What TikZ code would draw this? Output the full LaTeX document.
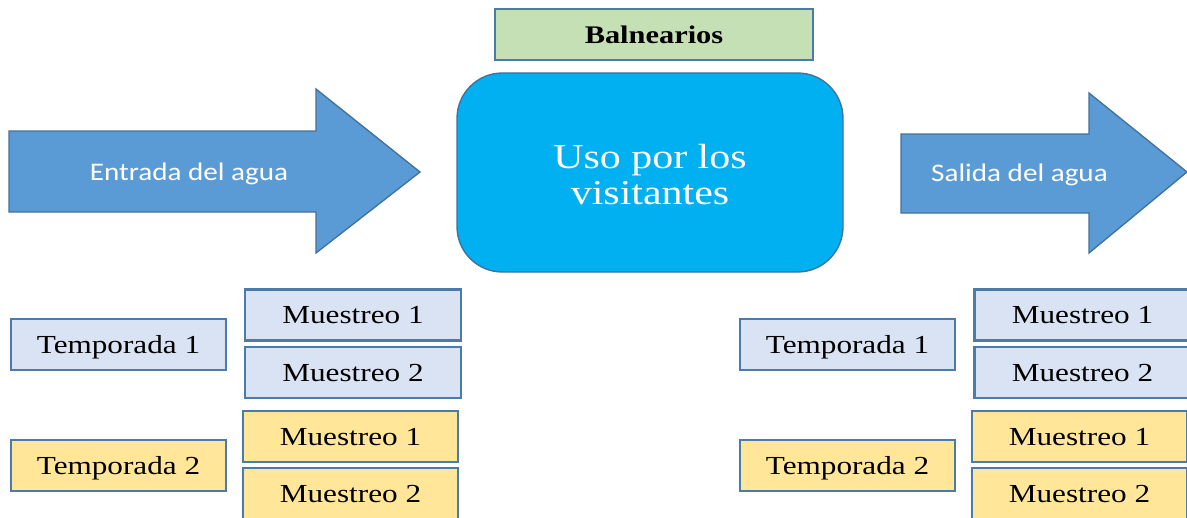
\documentclass[tikz,border=0pt]{standalone}
\usepackage{fontspec}
\setmainfont{Liberation Serif}[FakeStretch=1.2]
\newfontfamily\arrowfont{Carlito}[FakeStretch=1.15]

\definecolor{arrowfill}{HTML}{5B9BD5}
\definecolor{arrowline}{HTML}{41719C}
\definecolor{boxline}{HTML}{4A7BAA}
\definecolor{greenfill}{HTML}{C5E0B4}
\definecolor{cyanfill}{HTML}{00B0F0}
\definecolor{bluefill}{HTML}{DAE3F3}
\definecolor{yellowfill}{HTML}{FFE699}

\tikzset{every picture/.style={line width=0.75pt}}
\tikzset{
  flowarrow/.style={draw=arrowline, fill=arrowfill, line width=1pt},
  arrowtext/.style={text=white, anchor=base, font=\arrowfont\fontsize{19}{22}\selectfont},
  smallbox/.style={draw=boxline, line width=1.6pt, inner sep=0pt,
    minimum width=161.25pt, minimum height=38.25pt,
    text height=16pt, text depth=3.2pt,
    font=\fontsize{19.5}{22}\selectfont},
  seasonblue/.style={smallbox, fill=bluefill},
  seasonyellow/.style={smallbox, fill=yellowfill}
}

\begin{document}
\begin{tikzpicture}[x=0.75pt,y=0.75pt,yscale=-1,xscale=1]
	\useasboundingbox (0,0) rectangle (1187,517);

	%Shape: Right Arrow (entrada)
	\draw [flowarrow] (9,131) -- (316,131) -- (316,89) -- (420,172) -- (316,253) -- (316,212) -- (9,212) -- cycle ;
	%Shape: Right Arrow (salida)
	\draw [flowarrow] (901,134) -- (1089,134) -- (1089,93) -- (1187,172) -- (1089,253) -- (1089,213) -- (901,213) -- cycle ;

	% Text Node
	\node [arrowtext] (entrada) at (189,180) {Entrada del agua};
	% Text Node
	\node [arrowtext] (salida) at (1019.5,181) {Salida del agua};

	%Shape: Rectangle (balnearios)
	\node [draw=boxline, fill=greenfill, line width=1.6pt, inner sep=0pt,
	  minimum width=238.5pt, minimum height=38.25pt,
	  text height=16pt, text depth=3.2pt,
	  font=\bfseries\fontsize{19}{22}\selectfont] (balnearios) at (654,34.5) {Balnearios};

	%Rounded Rect (uso)
	\node [draw=arrowline, fill=cyanfill, line width=1pt, rounded corners=34pt,
	  minimum width=289.5pt, minimum height=149.25pt] (usobox) at (650,172.5) {};
	% Text Node
	\node [text=white, align=center, font=\fontsize{26.2}{27}\selectfont] (uso) at (650,175) {Uso por los\\visitantes};

	%Left group
	\node [seasonblue] (temp1L) at (118.5,344.5) {Temporada 1};
	\node [seasonblue, minimum width=162pt] (m11L) at (353,315) {Muestreo 1};
	\node [seasonblue, minimum width=162pt] (m12L) at (353,372.5) {Muestreo 2};
	\node [seasonyellow] (temp2L) at (118.5,465.5) {Temporada 2};
	\node [seasonyellow] (m21L) at (350.5,436.5) {Muestreo 1};
	\node [seasonyellow] (m22L) at (350.5,493.5) {Muestreo 2};

	%Right group
	\node [seasonblue] (temp1R) at (847.5,344.5) {Temporada 1};
	\node [seasonblue, minimum width=162pt] (m11R) at (1082.5,315) {Muestreo 1};
	\node [seasonblue, minimum width=162pt] (m12R) at (1082.5,372.5) {Muestreo 2};
	\node [seasonyellow] (temp2R) at (847.5,465.5) {Temporada 2};
	\node [seasonyellow] (m21R) at (1079.5,436.5) {Muestreo 1};
	\node [seasonyellow] (m22R) at (1079.5,493.5) {Muestreo 2};

\end{tikzpicture}
\end{document}
